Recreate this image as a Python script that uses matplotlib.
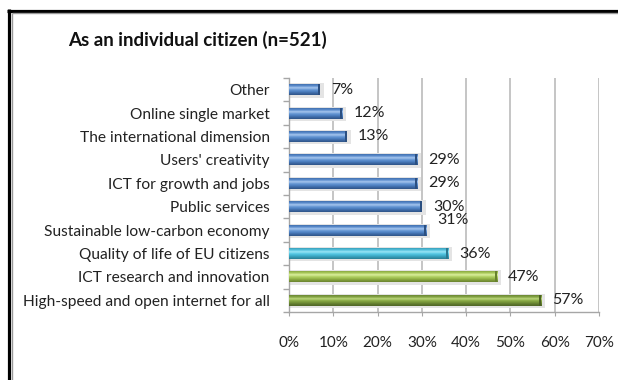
import numpy as np
import matplotlib
matplotlib.use("Agg")
import matplotlib.pyplot as plt
from matplotlib.lines import Line2D
from matplotlib.colors import LinearSegmentedColormap
from matplotlib.patches import Rectangle

plt.rcParams['font.family'] = ['Lato', 'DejaVu Sans']

title = "As an individual citizen (n=521)"
categories = [
    "Other",
    "Online single market",
    "The international dimension",
    "Users' creativity",
    "ICT for growth and jobs",
    "Public services",
    "Sustainable low-carbon economy",
    "Quality of life of EU citizens",
    "ICT research and innovation",
    "High-speed and open internet for all",
]
values = [7, 12, 13, 29, 29, 30, 31, 36, 47, 57]
bar_groups = ["blue"] * 7 + ["cyan", "lightgreen", "green"]
x_ticks = [0, 10, 20, 30, 40, 50, 60, 70]

# vertical gradient stops (bottom -> top) for each bar style
palettes = {
    "blue": ["#2f5488", "#3d68a3", "#4f82c4", "#6a9ad6", "#a9c8ef", "#5a8ccc", "#426fae"],
    "cyan": ["#2a7f95", "#3598b2", "#41b3d0", "#5ccbe6", "#9be6f6", "#52c0dc", "#3a9fba"],
    "lightgreen": ["#6a8330", "#7f9c3a", "#9bbb4f", "#b3d366", "#dcf0a0", "#a8c95a", "#8aa842"],
    "green": ["#4f6526", "#5f792e", "#76953a", "#8cad47", "#bcd77e", "#84a443", "#6a8634"],
}
caps = {"blue": "#2b4f80", "cyan": "#2a7890", "lightgreen": "#66802d", "green": "#4a6022"}

fig = plt.figure(figsize=(6.18, 3.80), dpi=100)
ax = fig.add_axes([289 / 618, 1 - 312 / 380, 310 / 618, 234 / 380])

n = len(categories)
ypos = np.arange(n)
bar_h = 0.47
ax.set_xlim(0, 70)
ax.set_ylim(n - 0.5, -0.5)

for i, (v, g) in enumerate(zip(values, bar_groups)):
    y0, y1 = i - bar_h / 2, i + bar_h / 2
    # soft shadow behind the bar
    ax.add_patch(Rectangle((0, y0 - 0.04), v + 0.9, bar_h + 0.14,
                           facecolor="#e4e4e4", edgecolor="none", zorder=2))
    cmap = LinearSegmentedColormap.from_list(g, palettes[g])
    grad = np.linspace(0, 1, 64).reshape(-1, 1)
    ax.imshow(grad, cmap=cmap, aspect="auto", extent=(0, v, y1, y0),
              origin="lower", zorder=3, interpolation="bilinear")
    # darker bevel at the bar end
    ax.add_patch(Rectangle((v - 0.45, y0), 0.45, bar_h,
                           facecolor=caps[g], edgecolor="none", zorder=4))
    dy = 7 if categories[i] == "Sustainable low-carbon economy" else 0
    ax.annotate(f"{v}%", xy=(v, i), xytext=(8, dy), textcoords="offset points",
                ha="left", va="center", fontsize=11.5, color="#222222", zorder=5)

ax.set_yticks(ypos)
ax.set_yticklabels(categories, fontsize=11.2, color="#222222")
ax.set_yticks(np.arange(-0.5, n, 1), minor=True)
ax.tick_params(axis="y", which="major", length=0, pad=14)
ax.tick_params(axis="y", which="minor", length=4, color="#a6a6a6", width=1)

ax.set_xticks(x_ticks)
ax.set_xticklabels([f"{t}%" for t in x_ticks], fontsize=11, color="#222222")
ax.tick_params(axis="x", length=3, color="#a6a6a6", pad=14)

ax.grid(axis="x", color="#c0c0c0", linewidth=1.3, zorder=0)
ax.set_axisbelow(True)
for s in ["top", "right"]:
    ax.spines[s].set_visible(False)
for s in ["left", "bottom"]:
    ax.spines[s].set_color("#a6a6a6")
    ax.spines[s].set_linewidth(1.0)

fig.text(68 / 618, 1 - 40 / 380, title, fontsize=13.5, fontweight="bold",
         ha="left", va="center", color="#111111")

# outer frame: heavy black edge with a grey inner line
fig.add_artist(Line2D([8.5 / 618, 8.5 / 618], [0, 1 - 9 / 380], color="black",
                      linewidth=2.3, transform=fig.transFigure, solid_capstyle="butt"))
fig.add_artist(Line2D([7 / 618, 1], [1 - 10.5 / 380, 1 - 10.5 / 380], color="black",
                      linewidth=2.3, transform=fig.transFigure, solid_capstyle="butt"))
fig.add_artist(Line2D([11.5 / 618, 11.5 / 618], [0, 1 - 12.5 / 380], color="#9a9a9a",
                      linewidth=1.0, transform=fig.transFigure, solid_capstyle="butt"))
fig.add_artist(Line2D([11.5 / 618, 1], [1 - 12.8 / 380, 1 - 12.8 / 380], color="#9a9a9a",
                      linewidth=1.0, transform=fig.transFigure, solid_capstyle="butt"))

fig.savefig("out.png", dpi=100)
